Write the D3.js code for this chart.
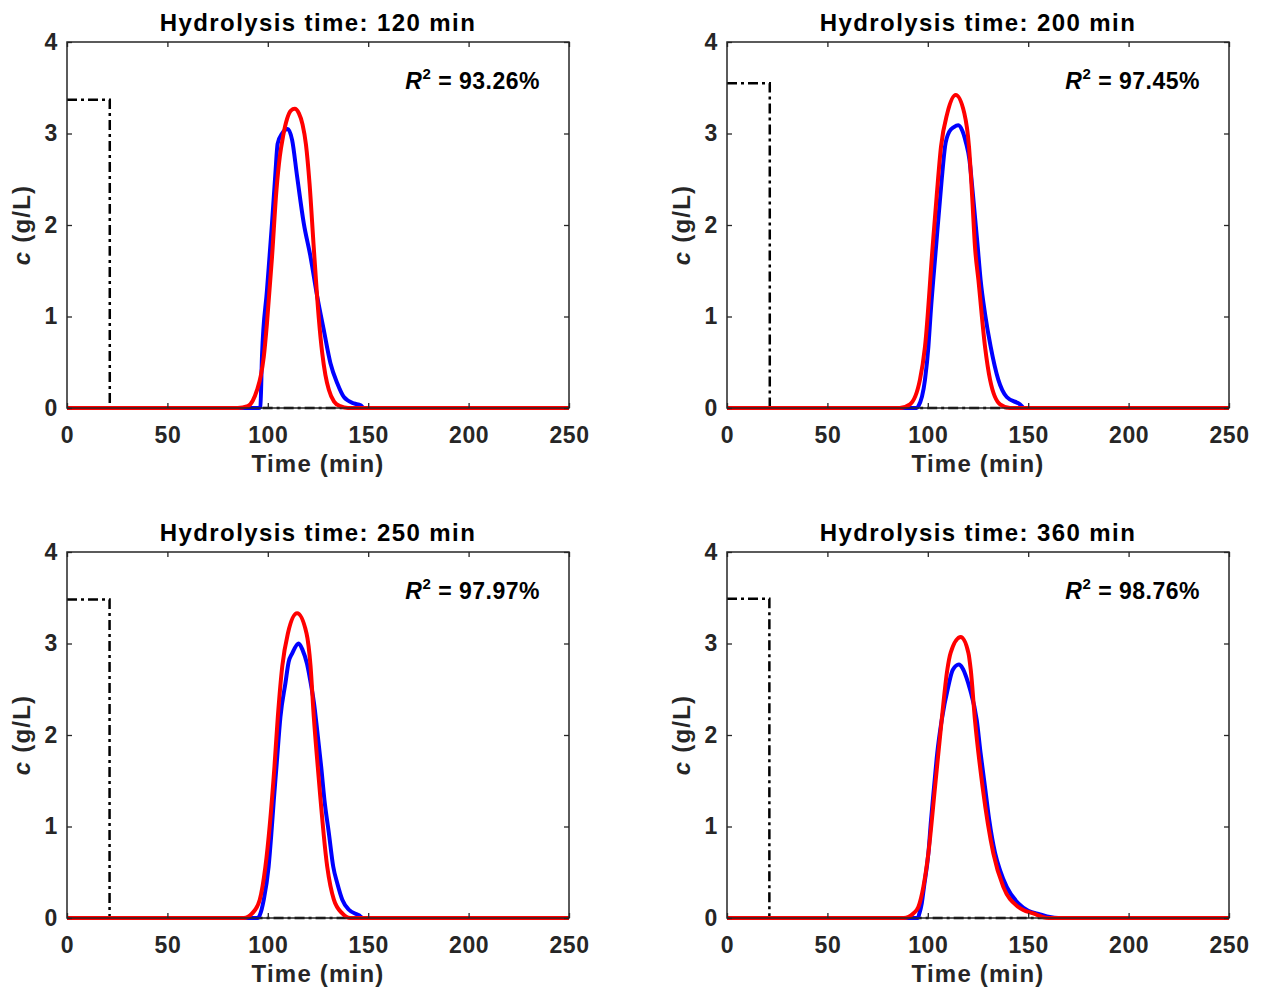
<!DOCTYPE html>
<html>
<head>
<meta charset="utf-8">
<script src="https://cdn.jsdelivr.net/npm/d3@7"></script>
<style>
  body { margin: 0; background: #fff; }
  text { font-family: "Liberation Sans", Arial, sans-serif; font-weight: bold; }
</style>
</head>
<body>
<div id="chart"></div>
<script>
// tick values
const timeTicks = [0, 50, 100, 150, 200, 250];
const concTicks = [0, 1, 2, 3, 4];

// panel texts
const titles = ["Hydrolysis time: 120 min", "Hydrolysis time: 200 min",
                "Hydrolysis time: 250 min", "Hydrolysis time: 360 min"];
const r2Values = ["93.26%", "97.45%", "97.97%", "98.76%"];

// feed pulse (dash-dot)
const feedHeight = [3.37, 3.55, 3.48, 3.49];
const feedEnd = [21.3, 21.3, 21.2, 21.1];

// measured outlet concentration (blue) [time, c]
const exp120 = [[0, 0], [95.5, 0], [96.3, 0.01], [97.1, 0.56], [99.6, 1.29], [102.1, 2.02], [103.8, 2.57],
  [104.9, 2.89], [107.1, 3.0], [109.9, 3.05], [112.1, 2.93], [114.6, 2.53], [117.9, 2.02], [121.3, 1.65],
  [124.6, 1.22], [127.9, 0.85], [131.2, 0.49], [134.6, 0.27], [137.9, 0.12], [142.9, 0.05], [146.2, 0.03],
  [148, 0], [250, 0]];
const exp200 = [[0, 0], [94.5, 0], [95.3, 0.02], [98.6, 0.31], [100.3, 0.67], [101.4, 1.03], [104.1, 1.76],
  [106.9, 2.49], [108.6, 2.86], [110.7, 3.02], [113, 3.07], [115.2, 3.09], [117.2, 3.03], [119, 2.9],
  [120.7, 2.72], [122.4, 2.35], [124.7, 1.8], [126.3, 1.40], [128.5, 1.03], [131.3, 0.67], [135.1, 0.31],
  [139.3, 0.12], [145.9, 0.04], [148, 0], [250, 0]];
const exp250 = [[0, 0], [95, 0], [96, 0.03], [98, 0.2], [100.4, 0.56], [101.8, 0.93], [103, 1.29], [104.3, 1.65],
  [106.3, 2.2], [108.8, 2.57], [110.4, 2.80], [112.1, 2.89], [115.4, 3.0], [117.3, 2.93], [119.5, 2.78],
  [121.5, 2.55], [123, 2.35], [124.6, 2.05], [126.6, 1.65], [128.2, 1.29], [130.4, 0.93], [132.6, 0.56],
  [134.6, 0.38], [137.1, 0.2], [140.4, 0.09], [145.4, 0.03], [147.5, 0], [250, 0]];
const exp360 = [[0, 0], [95, 0], [95.8, 0.05], [97, 0.16], [98.1, 0.34], [100.3, 0.71], [101.6, 1.07],
  [103.1, 1.43], [104.7, 1.80], [106.9, 2.16], [110.2, 2.53], [112.4, 2.71], [115.5, 2.77], [117.3, 2.73],
  [119.2, 2.63], [121, 2.5], [124.4, 2.16], [126.3, 1.80], [128.5, 1.43], [130.6, 1.07], [133.5, 0.71],
  [136, 0.52], [139.3, 0.34], [145.1, 0.16], [150, 0.08], [155.9, 0.04], [160.8, 0.01], [165, 0], [250, 0]];

// model fit (red) [time, c]
const fit120 = [[0, 0], [85, 0], [90, 0.02], [92.5, 0.08], [94.7, 0.2], [96.5, 0.35], [98, 0.56], [99.6, 0.93],
  [102.1, 1.65], [104.3, 2.38], [106, 2.75], [107.6, 2.97], [109.6, 3.16], [111.5, 3.25], [113.4, 3.27],
  [115.5, 3.22], [117.3, 3.1], [119, 2.88], [120.8, 2.45], [122.9, 1.75], [125.4, 0.98], [127.1, 0.6],
  [128.7, 0.36], [130.4, 0.2], [133, 0.07], [136, 0.02], [140, 0], [250, 0]];
const fit200 = [[0, 0], [86, 0], [91.1, 0.04], [96.1, 0.31], [98.6, 0.67], [102.4, 1.76], [104.4, 2.31],
  [106.6, 2.86], [109.7, 3.22], [113.9, 3.42], [118.2, 3.22], [120.5, 2.86], [122.1, 2.31], [123.5, 1.76],
  [125.2, 1.40], [128.5, 0.67], [131, 0.31], [136, 0.04], [141, 0], [250, 0]];
const fit250 = [[0, 0], [88, 0], [92.2, 0.05], [96, 0.2], [98.8, 0.56], [103.3, 1.65], [105, 2.2],
  [107.2, 2.75], [110, 3.11], [114.6, 3.33], [119.3, 3.11], [121.3, 2.75], [122.9, 2.2], [124.9, 1.65],
  [129.6, 0.56], [132.9, 0.2], [137.1, 0.05], [141, 0], [250, 0]];
const fit360 = [[0, 0], [88, 0], [92.8, 0.05], [95.3, 0.12], [97.8, 0.34], [100.3, 0.71], [103.6, 1.43],
  [106.9, 2.16], [109.7, 2.71], [111.4, 2.90], [116.4, 3.07], [120.2, 2.90], [121.4, 2.71], [123.5, 2.16],
  [127.3, 1.43], [132.6, 0.71], [137.6, 0.34], [145.1, 0.12], [152.5, 0.05], [160, 0], [250, 0]];

const expData = [exp120, exp200, exp250, exp360];
const fitData = [fit120, fit200, fit250, fit360];

const width = 1263, height = 996;
const plotW = 502, plotH = 366;
const origins = [[67, 42], [727, 42], [67, 552], [727, 552]];
const axisColor = "#262626";

const svg = d3.select("#chart")
  .append("svg")
  .attr("width", width)
  .attr("height", height);

const x = d3.scaleLinear().domain([0, 250]).range([0, plotW]);
const y = d3.scaleLinear().domain([0, 4]).range([plotH, 0]);

const line = d3.line()
  .x(d => x(d[0]))
  .y(d => y(d[1]))
  .curve(d3.curveMonotoneX);

const straight = d3.line()
  .x(d => x(d[0]))
  .y(d => y(d[1]));

for (let i = 0; i < 4; i++) {
  const g = svg.append("g")
    .attr("transform", `translate(${origins[i][0]},${origins[i][1]})`);

  // feed pulse
  const pulse = [[0, feedHeight[i]], [feedEnd[i], feedHeight[i]], [feedEnd[i], 0], [250, 0]];
  g.append("path")
    .attr("d", straight(pulse))
    .attr("fill", "none")
    .attr("stroke", "#000")
    .attr("stroke-width", 2.5)
    .attr("stroke-dasharray", "10,4,3,4");

  g.append("path")
    .attr("d", line(expData[i]))
    .attr("fill", "none")
    .attr("stroke", "#0000ff")
    .attr("stroke-width", 4)
    .attr("stroke-linejoin", "round");

  g.append("path")
    .attr("d", line(fitData[i]))
    .attr("fill", "none")
    .attr("stroke", "#ff0000")
    .attr("stroke-width", 4)
    .attr("stroke-linejoin", "round");

  // axes with inward ticks on all four sides
  g.append("g")
    .attr("transform", `translate(0,${plotH})`)
    .call(d3.axisBottom(x).tickValues(timeTicks).tickSizeInner(-5).tickSizeOuter(0).tickPadding(19).tickFormat(d3.format("d")))
    .call(a => a.select(".domain").remove());
  g.append("g")
    .call(d3.axisTop(x).tickValues(timeTicks).tickSizeInner(-5).tickSizeOuter(0).tickFormat(""))
    .call(a => a.select(".domain").remove());
  g.append("g")
    .call(d3.axisLeft(y).tickValues(concTicks).tickSizeInner(-5).tickSizeOuter(0).tickPadding(9).tickFormat(d3.format("d")))
    .call(a => a.select(".domain").remove());
  g.append("g")
    .attr("transform", `translate(${plotW},0)`)
    .call(d3.axisRight(y).tickValues(concTicks).tickSizeInner(-5).tickSizeOuter(0).tickFormat(""))
    .call(a => a.select(".domain").remove());

  g.selectAll(".tick line").attr("stroke", axisColor).attr("stroke-width", 1.3);
  g.selectAll(".tick text")
    .attr("fill", axisColor)
    .style("font-size", "23px")
    .style("font-family", "'Liberation Sans', Arial, sans-serif")
    .style("font-weight", "bold")
    .style("letter-spacing", "0.6px");

  g.append("rect")
    .attr("width", plotW)
    .attr("height", plotH)
    .attr("fill", "none")
    .attr("stroke", axisColor)
    .attr("stroke-width", 1.5);

  // title
  g.append("text")
    .attr("x", plotW / 2)
    .attr("y", -11)
    .attr("text-anchor", "middle")
    .attr("fill", "#000")
    .style("font-size", "24px")
    .style("letter-spacing", "1.4px")
    .text(titles[i]);

  // x label
  g.append("text")
    .attr("x", plotW / 2)
    .attr("y", plotH + 64)
    .attr("text-anchor", "middle")
    .attr("fill", axisColor)
    .style("font-size", "24px")
    .style("letter-spacing", "1.2px")
    .text("Time (min)");

  // y label
  const yl = g.append("text")
    .attr("transform", `translate(-37,${plotH / 2}) rotate(-90)`)
    .attr("text-anchor", "middle")
    .attr("fill", axisColor)
    .style("font-size", "24px")
    .style("letter-spacing", "1.2px");
  yl.append("tspan").style("font-style", "italic").text("c");
  yl.append("tspan").text(" (g/L)");

  // R squared
  const r2 = g.append("text")
    .attr("x", plotW - 29)
    .attr("y", 47)
    .attr("text-anchor", "end")
    .attr("fill", "#000")
    .style("font-size", "23px")
    .style("letter-spacing", "0.5px");
  r2.append("tspan").style("font-style", "italic").text("R");
  r2.append("tspan").attr("dy", -10).style("font-size", "15px").text("2");
  r2.append("tspan").attr("dy", 10).text(" = " + r2Values[i]);
}
</script>
</body>
</html>
